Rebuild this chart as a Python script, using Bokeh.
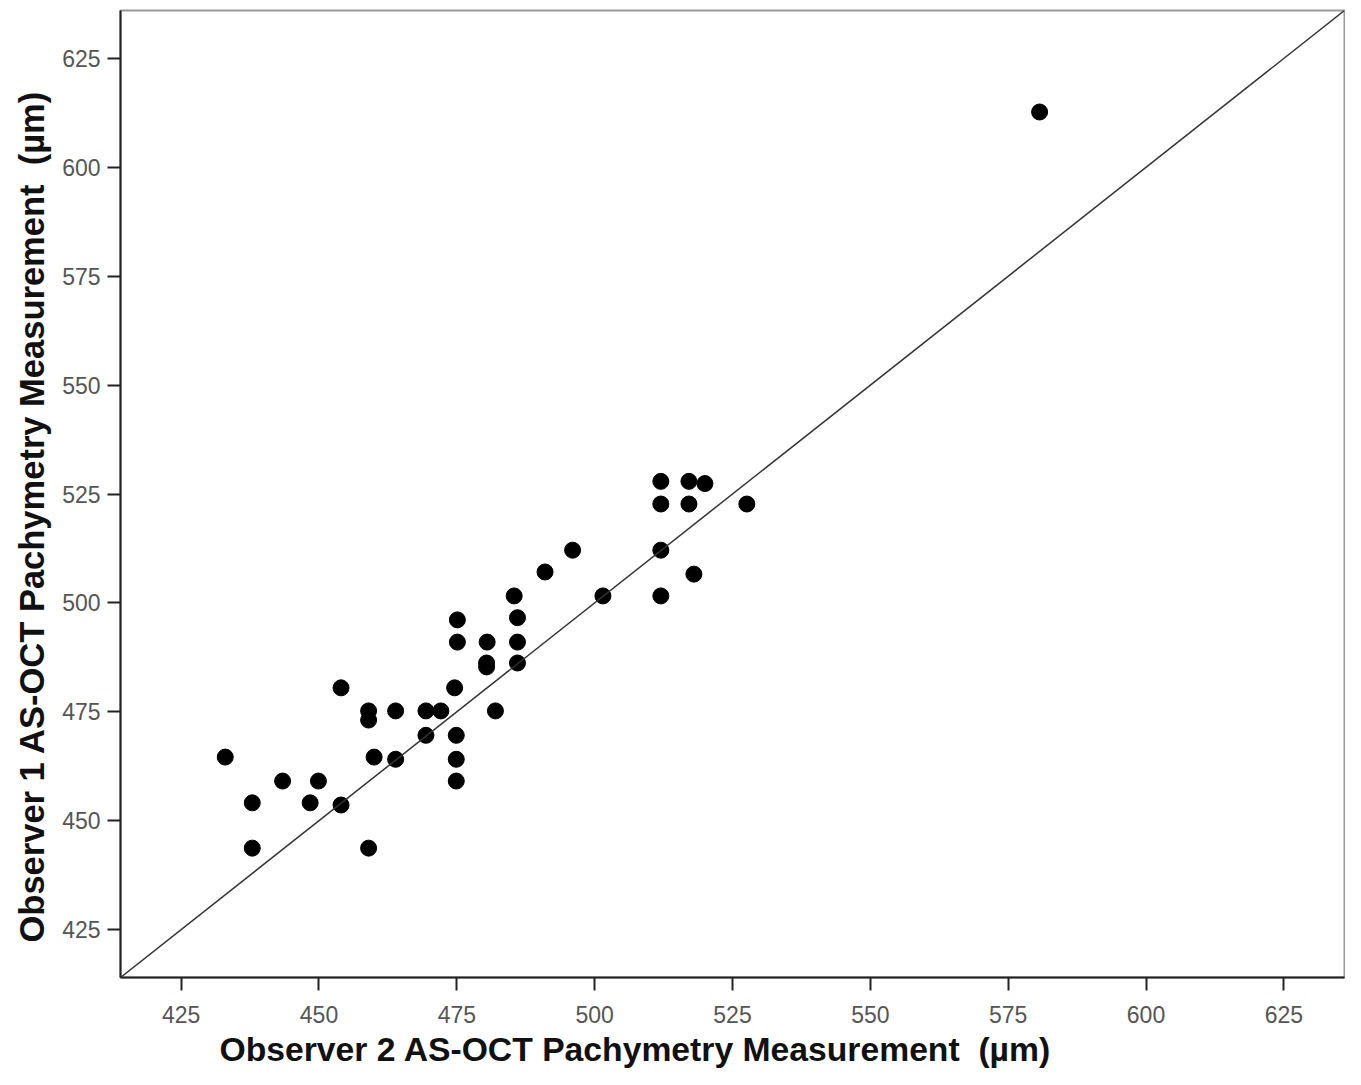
from bokeh.plotting import figure
from bokeh.models import FixedTicker, Range1d, Slope, Title
from bokeh.embed import file_html
from bokeh.resources import INLINE

# Observer 2 (x) vs Observer 1 (y) AS-OCT pachymetry (µm)
obs2 = [580.7, 433.0, 437.9, 437.9, 443.4, 448.4, 449.9, 454.0, 454.0, 459.0,
        459.0, 459.0, 460.0, 463.9, 463.9, 469.4, 469.4, 472.1, 474.6, 475.1,
        475.1, 474.9, 474.9, 474.9, 480.5, 480.4, 480.4, 482.0, 485.4, 486.0,
        486.0, 486.0, 491.0, 496.0, 501.5, 512.0, 512.0, 512.0, 512.0, 517.1,
        517.1, 518.0, 520.0, 527.6]
obs1 = [612.7, 464.6, 454.1, 443.7, 459.1, 454.1, 459.1, 453.6, 480.5, 475.2,
        473.1, 443.7, 464.6, 475.2, 464.1, 475.2, 469.6, 475.2, 480.5, 496.1,
        491.0, 469.6, 464.1, 459.1, 491.0, 486.2, 485.3, 475.2, 501.6, 496.6,
        491.0, 486.2, 507.1, 512.1, 501.6, 527.9, 522.7, 512.1, 501.6, 527.9,
        522.7, 506.6, 527.4, 522.7]
ticks = [425, 450, 475, 500, 525, 550, 575, 600, 625]
x_label = "Observer 2 AS-OCT Pachymetry Measurement\u00a0 (µm)"
y_label = "Observer 1 AS-OCT Pachymetry Measurement\u00a0 (µm)"

p = figure(width=1345, height=1069, output_backend="svg", toolbar_location=None,
           x_range=Range1d(414, 636), y_range=Range1d(414, 636),
           min_border_left=120, min_border_right=1, min_border_top=10,
           min_border_bottom=0)

p.xgrid.visible = False
p.ygrid.visible = False
p.outline_line_color = "#9a9a9a"
p.outline_line_width = 2

for ax in (p.xaxis[0], p.yaxis[0]):
    ax.ticker = FixedTicker(ticks=ticks)
    ax.minor_tick_line_color = None
    ax.major_tick_in = 0
    ax.major_tick_out = 13
    ax.major_tick_line_width = 2
    ax.major_tick_line_color = "#222222"
    ax.axis_line_width = 2
    ax.axis_line_color = "#222222"
    ax.major_label_text_font = "Liberation Sans"
    ax.major_label_text_font_size = "23px"
    ax.major_label_text_color = "#555555"

p.xaxis.major_label_standoff = 15
p.yaxis.major_label_standoff = 7

p.add_layout(Slope(gradient=1, y_intercept=0, line_color="#333333", line_width=1.5))

p.scatter(obs2, obs1, size=16, fill_color="black", line_color="black")

title_style = dict(text_font="Liberation Sans", text_font_style="bold",
                   text_color="#111111", align="left")
p.add_layout(Title(text=x_label, offset=99, standoff=4, text_font_size="33.7px",
                   **title_style), "below")
p.add_layout(Title(text=y_label, offset=35, standoff=17, text_font_size="34.5px",
                   **title_style), "left")

open("out.html", "w").write(file_html(p, INLINE))
